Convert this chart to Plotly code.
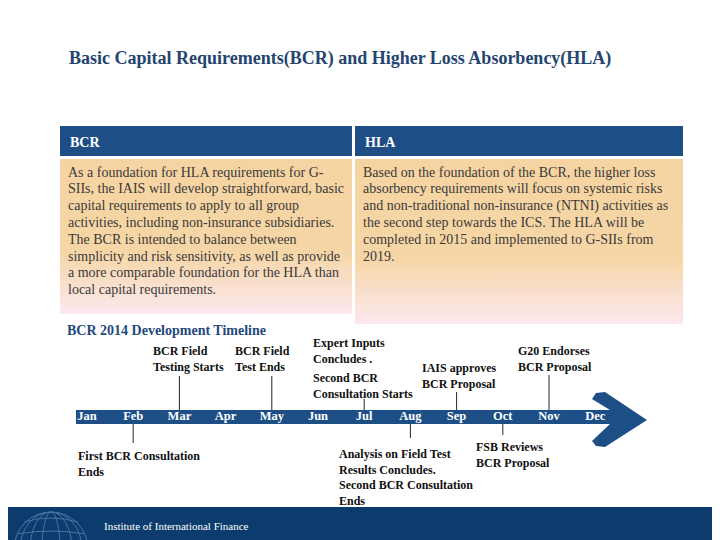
import plotly.graph_objects as go

# slide text
title = "Basic Capital Requirements(BCR) and Higher Loss Absorbency(HLA)"
box_heads = ["BCR", "HLA"]
box_texts = [
    "As a foundation for HLA requirements for G-<br>SIIs, the IAIS will develop straightforward, basic<br>"
    "capital requirements to apply to all group<br>activities, including non-insurance subsidiaries.<br>"
    "The BCR is intended to balance between<br>simplicity and risk sensitivity, as well as provide<br>"
    "a more comparable foundation for the HLA than<br>local capital requirements.",
    "Based on the foundation of the BCR, the higher loss<br>absorbency requirements will focus on systemic risks<br>"
    "and non-traditional non-insurance (NTNI) activities as<br>the second step towards the ICS. The HLA will be<br>"
    "completed in 2015 and implemented to G-SIIs from<br>2019.",
]
timeline_title = "BCR 2014 Development Timeline"
footer = "Institute of International Finance"

months = ["Jan", "Feb", "Mar", "Apr", "May", "Jun", "Jul", "Aug", "Sep", "Oct", "Nov", "Dec"]
event_month = ["Mar", "May", "Jul", "Jul", "Sep", "Nov", "Feb", "Aug", "Aug", "Oct"]
event_text = [
    "BCR Field<br>Testing Starts",
    "BCR Field<br>Test Ends",
    "Expert Inputs<br>Concludes .",
    "Second BCR<br>Consultation Starts",
    "IAIS approves<br>BCR Proposal",
    "G20 Endorses<br>BCR Proposal",
    "First BCR Consultation<br>Ends",
    "Analysis on Field Test<br>Results Concludes.",
    "Second BCR Consultation<br>Ends",
    "FSB Reviews<br>BCR Proposal",
]

# layout (pixels of the slide); the page body adds an 8px margin
OFF = 8
W, H = 720 - OFF, 540 - OFF
JAN_PX, STEP_PX = 87, 46.2
BAR_TOP, BAR_BOT = 410, 424
label_pos = [(151, 342), (233, 342), (311, 334), (311, 369), (420, 359),
             (516, 342), (76, 447), (337, 445), (337, 476), (474, 438)]
line_end = [376, 376, None, 399, 392, 375, 443, 438, None, 435]

NAVY = "#1d4f86"
SERIF = "Liberation Serif"


def px(x):
    return (x - OFF) / W


def mx(x):
    return (x - JAN_PX) / STEP_PX


fig = go.Figure()

# boxes with gradient bodies
boxes = [(60, 352, 314), (355, 683, 324)]
for (x0, x1, yb), head, txt in zip(boxes, box_heads, box_texts):
    fig.add_shape(type="rect", xref="paper", yref="y", x0=px(x0), x1=px(x1), y0=126, y1=156,
                  fillcolor=NAVY, line_width=0, layer="below")
    fig.add_annotation(xref="paper", yref="y", x=px(x0 + 8), y=142, text="<b>" + head + "</b>",
                       showarrow=False, xanchor="left", font=dict(family=SERIF, size=14, color="white"))
    fig.add_trace(go.Scatter(
        x=[mx(x0), mx(x1), mx(x1), mx(x0), mx(x0)], y=[159, 159, yb, yb, 159], mode="lines",
        fill="toself", line=dict(width=0), hoverinfo="skip", showlegend=False,
        fillgradient=dict(type="vertical", start=159, stop=yb,
                          colorscale=[[0, "#f6d4a2"], [0.6, "#f6d6a6"], [1, "#fce8ef"]])))
    for i, ln in enumerate(txt.split("<br>")):
        fig.add_annotation(xref="paper", yref="y", x=px(x0 + 6), y=172 + i * 16.8, text=ln,
                           showarrow=False, xanchor="left", yanchor="middle",
                           font=dict(family=SERIF, size=14, color="#3a3a3a"))

fig.add_annotation(xref="paper", yref="y", x=px(67), y=58, text="<b>" + title + "</b>", showarrow=False,
                   xanchor="left", font=dict(family=SERIF, size=18, color="#24446f"))
fig.add_annotation(xref="paper", yref="y", x=px(65), y=330, text="<b>" + timeline_title + "</b>",
                   showarrow=False, xanchor="left", font=dict(family=SERIF, size=14, color="#1f497d"))

# timeline arrow
pts = [(76, BAR_TOP), (610, BAR_TOP), (592, 399), (596, 393), (605, 392), (647, 420),
       (605, 447), (596, 446), (592, 441), (610, BAR_BOT), (76, BAR_BOT)]
path = "M " + " L ".join(f"{px(a):.5f},{b}" for a, b in pts) + " Z"
fig.add_shape(type="path", xref="paper", yref="y", path=path, fillcolor=NAVY, line_width=0,
              layer="below")

midx = {m: i for i, m in enumerate(months)}
fig.add_trace(go.Scatter(
    x=list(range(len(months))), y=[417] * len(months), mode="text", text=months,
    textfont=dict(family=SERIF, size=12.5, color="white", weight="bold"),
    hoverinfo="skip", showlegend=False))

for m, txt, (lx, ly), le in zip(event_month, event_text, label_pos, line_end):
    fig.add_annotation(xref="paper", yref="y", x=px(lx), y=ly, text="<b>" + txt + "</b>",
                       showarrow=False, xanchor="left", yanchor="top", align="left",
                       font=dict(family=SERIF, size=12, color="#111111"))
    if le is not None:
        y0 = BAR_TOP if le < BAR_TOP else BAR_BOT
        fig.add_trace(go.Scatter(x=[midx[m], midx[m]], y=[y0, le], mode="lines",
                                 line=dict(color="#1a2a3a", width=1), hoverinfo="skip",
                                 showlegend=False))

# footer band + globe
fig.add_shape(type="rect", xref="paper", yref="y", x0=0, x1=1, y0=507, y1=545,
              fillcolor="#0b3c6d", line_width=0)
g = "#4a73a3"
fig.add_shape(type="circle", xref="paper", yref="y", x0=px(14), x1=px(88), y0=512, y1=586,
              line=dict(color=g, width=1))
for a, b in [(20, 82), (30, 72), (42, 60)]:
    fig.add_shape(type="circle", xref="paper", yref="y", x0=px(a), x1=px(b), y0=512, y1=586,
                  line=dict(color=g, width=1))
fig.add_shape(type="path", xref="paper", yref="y", line=dict(color=g, width=1),
              path=f"M {px(24)},522 Q {px(51)},514 {px(78)},522")
fig.add_shape(type="path", xref="paper", yref="y", line=dict(color=g, width=1),
              path=f"M {px(17)},534 Q {px(51)},528 {px(85)},534")
fig.add_annotation(xref="paper", yref="y", x=px(102), y=526, text=footer, showarrow=False,
                   xanchor="left", font=dict(family=SERIF, size=11, color="white"))

fig.update_layout(
    width=W, height=H, margin=dict(l=0, r=0, t=0, b=0),
    paper_bgcolor="white", plot_bgcolor="white",
    xaxis=dict(range=[mx(OFF), mx(720)], visible=False, fixedrange=True),
    yaxis=dict(range=[540, OFF], visible=False, fixedrange=True),
)

fig.write_html("out.html")
